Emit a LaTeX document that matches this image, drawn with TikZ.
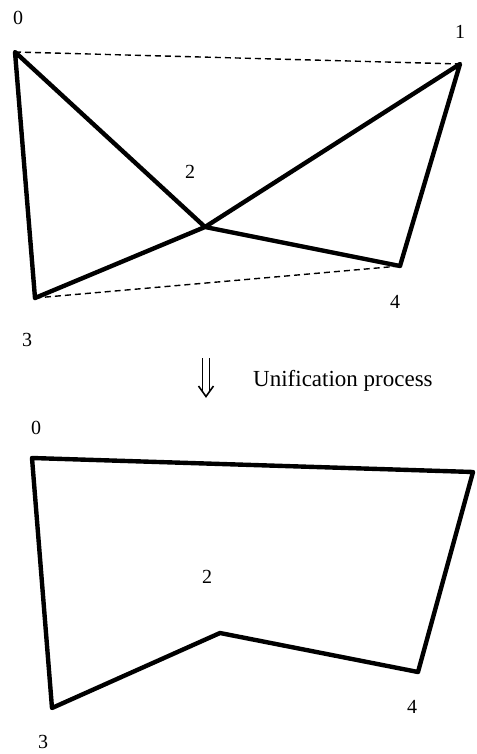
\documentclass[tikz,border=0pt]{standalone}
\usepackage{fontspec}
\setmainfont{Liberation Serif}
\usetikzlibrary{calc}
\tikzset{
  edge/.style  = {line width=4.4pt, line cap=round, line join=round},
  hull/.style  = {line width=1.4pt, dash pattern=on 6pt off 4pt},
  shaft/.style = {line width=1.6pt},
  lbl/.style   = {font=\fontsize{20}{22}\selectfont, inner sep=0pt},
}
\begin{document}
\begin{tikzpicture}[x=1pt,y=-1pt]
  \clip (0,0) rectangle (476,754);
  \fill[white] (0,0) rectangle (476,754);
  % before
  \coordinate (a0) at (15,52);
  \coordinate (a1) at (460,64);
  \coordinate (a2) at (205,227);
  \coordinate (a3) at (35,298);
  \coordinate (a4) at (400,266);
  \draw[hull] (a0) -- (a1);
  \draw[hull] (a3) -- (a4);
  \draw[edge] (a3) -- (a0) -- (a2) -- (a4) -- (a1) -- (a2) -- (a3);
  \foreach \n/\p in {0/{(18,18)}, 1/{(460,32)}, 2/{(190,172)}, 3/{(27,340)}, 4/{(395,302)}}
     {\node[lbl] (la\n) at \p {\n};}
  % arrow
  \draw[shaft] (202.5,358) -- (202.5,390.5);
  \draw[shaft] (209.5,358) -- (209.5,390.5);
  \draw[shaft, line join=miter] (198.5,386) -- (206,396.5) -- (213.5,386);
  \node[font=\fontsize{23}{25}\selectfont, anchor=west, inner sep=0pt] (proc) at (253,381) {Unification process};
  % after
  \coordinate (b0) at (32,458);
  \coordinate (b1) at (473,472);
  \coordinate (b2) at (220,633);
  \coordinate (b3) at (52,708);
  \coordinate (b4) at (418,672);
  \draw[edge] (b0) -- (b1) -- (b4) -- (b2) -- (b3) -- cycle;
  \foreach \n/\p in {0/{(36,428)}, 1/{(482,443)}, 2/{(207,577)}, 3/{(43,742)}, 4/{(412,707)}}
     {\node[lbl] (lb\n) at \p {\n};}
\end{tikzpicture}
\end{document}
